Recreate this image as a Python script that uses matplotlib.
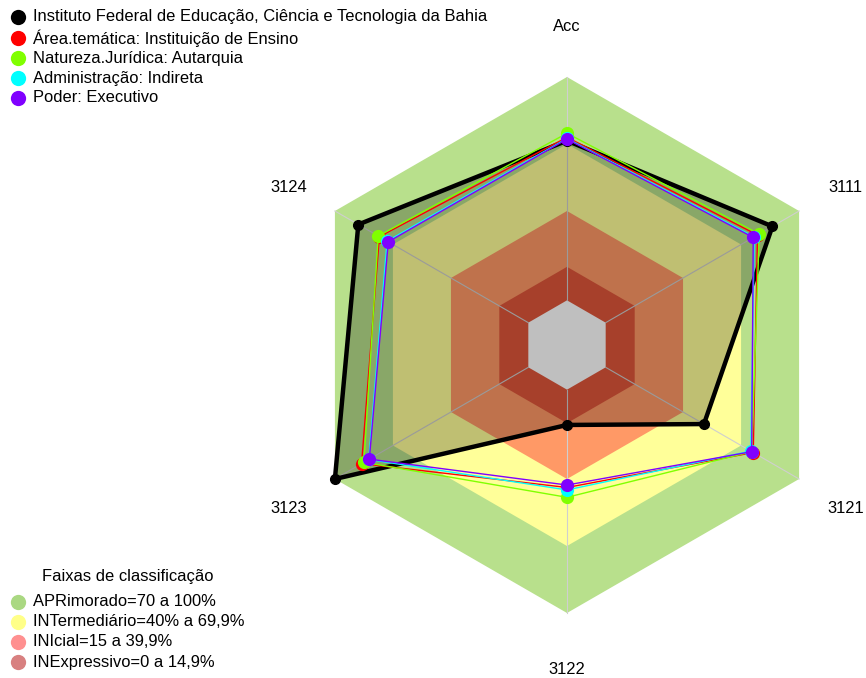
import numpy as np
import matplotlib
matplotlib.use("Agg")
import matplotlib.pyplot as plt
from matplotlib.patches import Polygon

plt.rcParams['font.family'] = ['Liberation Sans', 'DejaVu Sans']

# ---- data ----
categories = ["Acc", "3111", "3121", "3122", "3123", "3124"]
series_names = ["Instituto Federal de Educação, Ciência e Tecnologia da Bahia",
                "Área.temática: Instituição de Ensino",
                "Natureza.Jurídica: Autarquia",
                "Administração: Indireta",
                "Poder: Executivo"]
ifba = [71.5, 86.2, 50.8, 15.8, 100.0, 87.9]
area = [73.0, 78.5, 76.3, 43.8, 86.2, 77.0]
natureza = [74.8, 79.4, 75.5, 48.2, 85.0, 77.6]
admin = [72.5, 76.8, 75.0, 44.9, 82.5, 73.0]
poder = [72.2, 76.3, 75.5, 42.7, 82.2, 72.4]
series_values = [ifba, area, natureza, admin, poder]
series_colors = ["#000000", "#FF0000", "#80FF00", "#00FFFF", "#8000FF"]

band_labels = ["APRimorado=70 a 100%", "INTermediário=40% a 69,9%",
               "INIcial=15 a 39,9%", "INExpressivo=0 a 14,9%"]
band_limits = [100, 70, 40, 15]
band_colors = ["#B8E08C", "#FFFF99", "#FF9966", "#E0563A"]
legend_band_colors = ["#AAD882", "#FFFF88", "#FF9090", "#D88080"]

# ---- geometry ----
W, H, DPI = 866, 678, 100
cx, cy, R = 567, 345, 268
FS = 11.9
n = len(categories)
angles = np.deg2rad(90 - 60 * np.arange(n))


def rad(v):
    return 1 / 6 + np.asarray(v, dtype=float) / 100 * 5 / 6


def xy(vals):
    r = rad(vals)
    return r * np.cos(angles), r * np.sin(angles)


fig = plt.figure(figsize=(W / DPI, H / DPI), dpi=DPI)
ax = fig.add_axes([0, 0, 1, 1])
ax.set_xlim(-cx / R, (W - cx) / R)
ax.set_ylim(-(H - cy) / R, cy / R)
ax.set_aspect('equal')
ax.axis('off')

# bands
for lim, col in zip(band_limits, band_colors):
    x, y = xy([lim] * n)
    ax.add_patch(Polygon(np.column_stack([x, y]), closed=True, fc=col, ec='none', zorder=1))
x0, y0 = xy([0] * n)
ax.add_patch(Polygon(np.column_stack([x0, y0]), closed=True, fc='white', ec='none', zorder=1))

# radial grid
x1, y1 = xy([100] * n)
for i in range(n):
    ax.plot([x0[i], x1[i]], [y0[i], y1[i]], color='#CFCFCF', lw=0.8, zorder=2)

# series
for k, (vals, col) in enumerate(zip(series_values, series_colors)):
    x, y = xy(vals)
    xc = np.append(x, x[0]); yc = np.append(y, y[0])
    if k == 0:
        ax.add_patch(Polygon(np.column_stack([x, y]), closed=True,
                             fc=(0, 0, 0, 0.25), ec='none', zorder=3))
        ax.plot(xc, yc, color=col, lw=3.2, zorder=4)
        ax.plot(x, y, 'o', color=col, ms=7, zorder=5)
    else:
        ax.plot(xc, yc, color=col, lw=1.0, zorder=4 + k)
        ax.plot(x, y, 'o', color=col, ms=9.5, mec='none', zorder=4 + k)

# axis labels
yoff = -3 / R
for i, lab in enumerate(categories):
    rr = 1.2
    ax.text(rr * np.cos(angles[i]), rr * np.sin(angles[i]) + yoff, lab,
            ha='center', va='center', fontsize=FS, zorder=10)

# ---- legends (pixel coordinates) ----
lax = fig.add_axes([0, 0, 1, 1])
lax.set_xlim(0, W)
lax.set_ylim(H, 0)
lax.axis('off')
lax.patch.set_alpha(0)

row_y = [17, 38, 58, 78, 98]
for name, col, yy in zip(series_names, series_colors, row_y):
    lax.plot([18], [yy], 'o', color=col, ms=11, mec='none')
    lax.text(33, yy, name, ha='left', va='center', fontsize=FS)

lax.text(128, 576, "Faixas de classificação", ha='center', va='center', fontsize=FS)
band_y = [602, 622, 642, 662]
for lab, col, yy in zip(band_labels, legend_band_colors, band_y):
    lax.plot([18], [yy], 'o', color=col, ms=11, mec='none')
    lax.text(33, yy, lab, ha='left', va='center', fontsize=FS)

fig.savefig("out.png", dpi=DPI)
